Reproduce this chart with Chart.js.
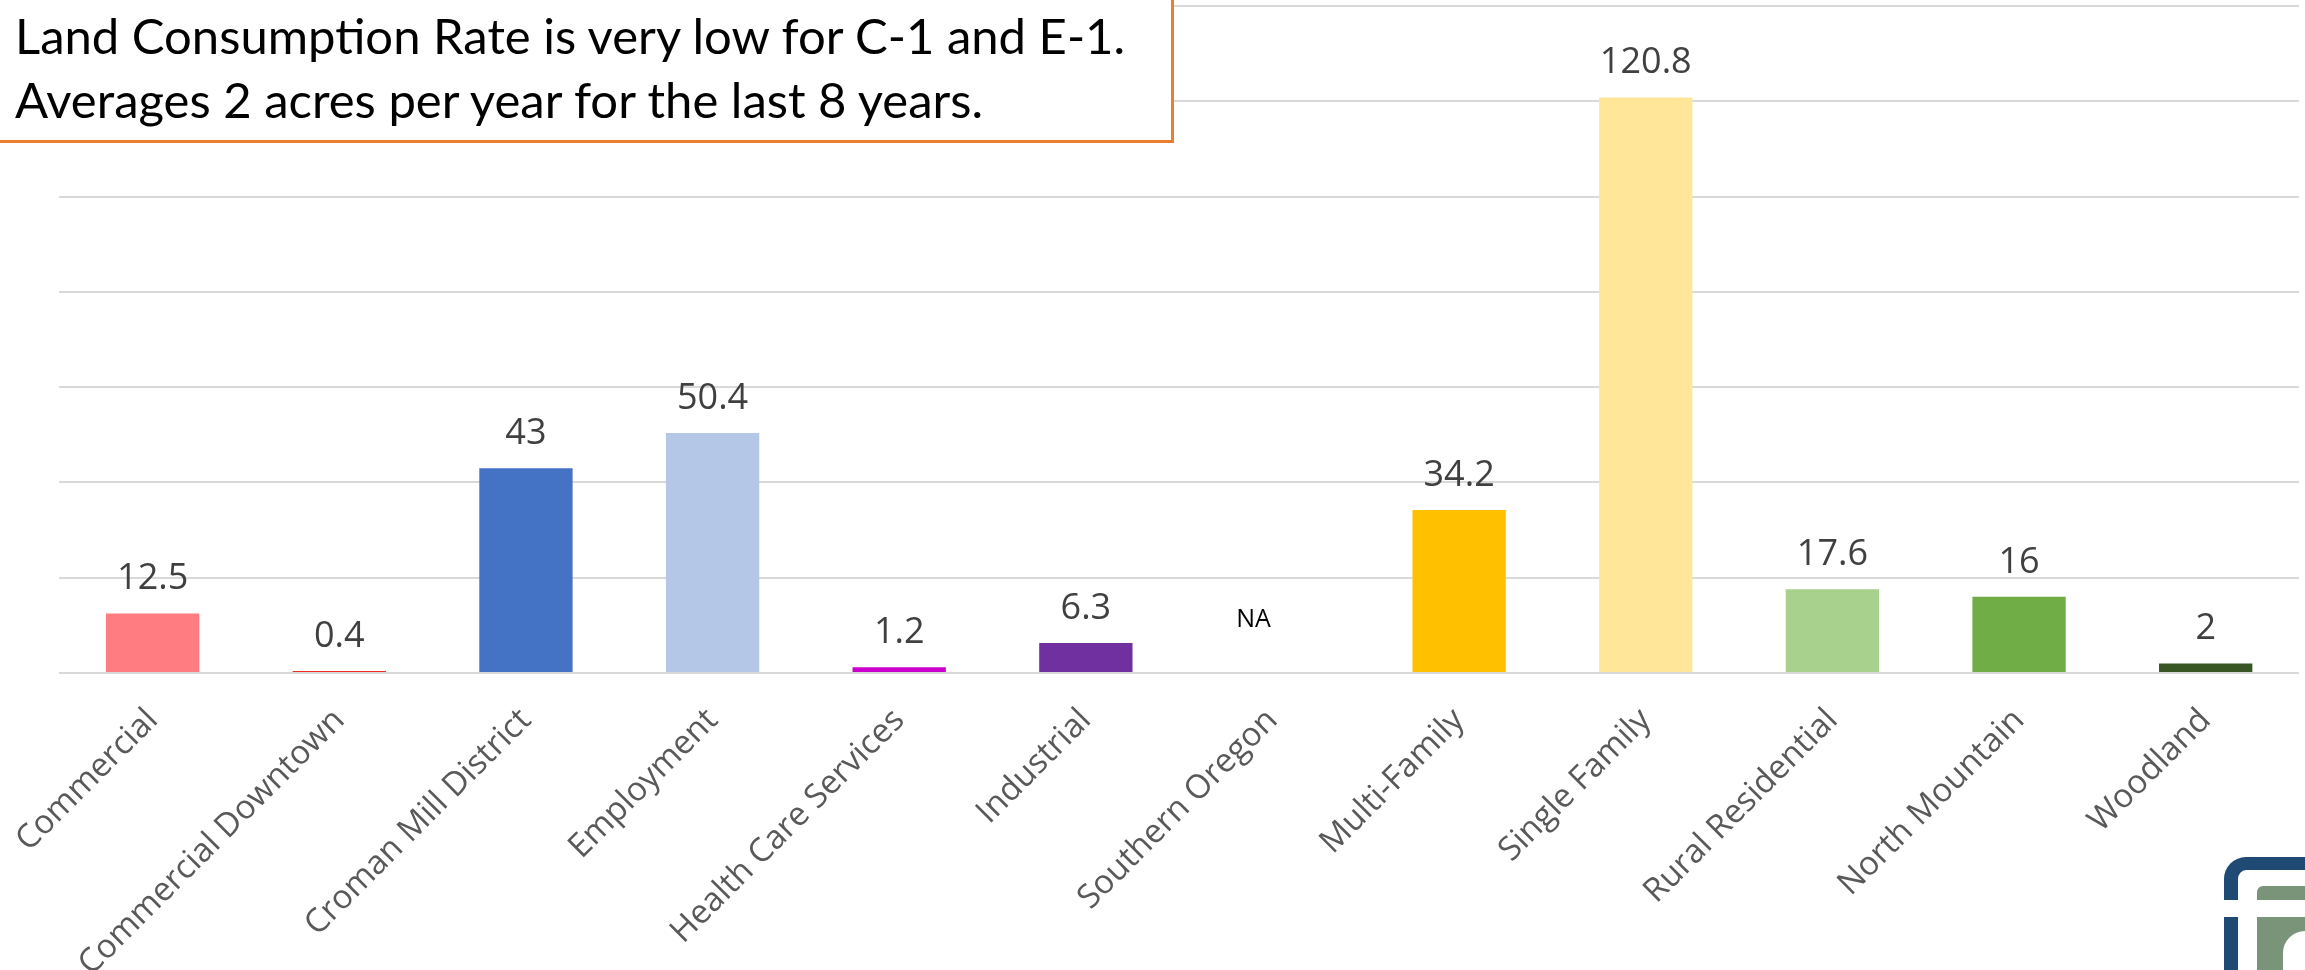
<!DOCTYPE html>
<html>
<head>
<meta charset="utf-8">
<script src="https://cdn.jsdelivr.net/npm/chart.js@4"></script>
<style>
  html, body { margin: 0; padding: 0; background: #fff; overflow: hidden; }
  .wrap { position: relative; width: 2305px; height: 970px; }
  canvas { position: absolute; left: 0; top: 0; }
  .note {
    position: absolute; left: -4px; top: -4px; width: 1178px; height: 147px;
    box-sizing: border-box; border: 3px solid #ED7D31; background: #fff;
    font-family: Lato, "Open Sans", sans-serif; font-size: 49px; color: #000;
    z-index: 2;
  }
  .note div { position: absolute; left: 16px; white-space: nowrap; line-height: 59px; }
  .logo { position: absolute; left: 2224px; top: 857px; width: 81px; height: 113px; overflow: hidden; z-index: 2; }
  .logo .frame { position: absolute; left: 0; top: 0; width: 120px; height: 160px; box-sizing: border-box;
    border-top: 13px solid #1F4A73; border-left: 14px solid #1F4A73; border-top-left-radius: 22px; }
  .logo .box { position: absolute; left: 33px; top: 29px; width: 80px; height: 100px; background: #7A9479; border-top-left-radius: 6px; }
  .logo .gap { position: absolute; left: 0; top: 43px; width: 81px; height: 17px; background: #fff; }
  .logo .hole { position: absolute; left: 59px; top: 74px; width: 40px; height: 60px; background: #fff; border-radius: 22px 0 0 22px; }
</style>
</head>
<body>
<div class="wrap">
  <canvas id="chart" width="2305" height="970"></canvas>
  <div class="note">
    <div style="top: 7px;">Land Consumption Rate is very low for C-1 and E-1.</div>
    <div style="top: 71px;">Averages 2 acres per year for the last 8 years.</div>
  </div>
  <div class="logo">
    <div class="frame"></div>
    <div class="box"></div>
    <div class="gap"></div>
    <div class="hole"></div>
  </div>
</div>
<script>
const categories = ['Commercial', 'Commercial Downtown', 'Croman Mill District', 'Employment',
  'Health Care Services', 'Industrial', 'Southern Oregon', 'Multi-Family', 'Single Family',
  'Rural Residential', 'North Mountain', 'Woodland'];
const acres = [12.5, 0.4, 43, 50.4, 1.2, 6.3, null, 34.2, 120.8, 17.6, 16, 2];
const barColors = ['#FF7C80', '#F02A2A', '#4472C4', '#B4C7E7', '#CC00CC', '#7030A0',
  '#FFFFFF', '#FFC000', '#FFE699', '#A9D18E', '#70AD47', '#375623'];
const yMax = 140;
const yStep = 20;

// value labels above the bars, "NA" where there is no value
const barLabels = {
  id: 'barLabels',
  afterDatasetsDraw(chart) {
    const ctx = chart.ctx;
    const meta = chart.getDatasetMeta(0);
    const yScale = chart.scales.y;
    ctx.save();
    ctx.textAlign = 'center';
    ctx.textBaseline = 'alphabetic';
    meta.data.forEach((bar, i) => {
      const v = acres[i];
      if (v === null) {
        ctx.fillStyle = '#000';
        ctx.font = '25px "Open Sans"';
        ctx.fillText('NA', bar.x - 19, yScale.getPixelForValue(0) - 46);
      } else {
        ctx.fillStyle = '#404040';
        ctx.font = '36px "Open Sans"';
        ctx.fillText(String(v), bar.x, bar.y - 24);
      }
    });
    ctx.restore();
  }
};

new Chart(document.getElementById('chart'), {
  type: 'bar',
  data: {
    labels: categories,
    datasets: [{
      data: acres,
      backgroundColor: barColors,
      barPercentage: 0.5,
      categoryPercentage: 1.0,
    }]
  },
  options: {
    responsive: false,
    animation: false,
    layout: { padding: { left: 52, right: 6, top: 6, bottom: 0 } },
    plugins: {
      legend: { display: false },
      tooltip: { enabled: false },
    },
    scales: {
      x: {
        grid: { display: false },
        border: { display: false },
        ticks: {
          autoSkip: false,
          minRotation: 45,
          maxRotation: 45,
          padding: 20,
          color: '#595959',
          font: { family: 'Open Sans', size: 33 },
        },
        afterFit(scale) { scale.height = 297; },
      },
      y: {
        min: 0,
        max: yMax,
        border: { display: false },
        grid: { color: '#D9D9D9', lineWidth: 2, drawTicks: false },
        ticks: { display: false, stepSize: yStep },
        afterFit(scale) { scale.width = 0; },
      },
    },
  },
  plugins: [barLabels],
});
</script>
</body>
</html>
